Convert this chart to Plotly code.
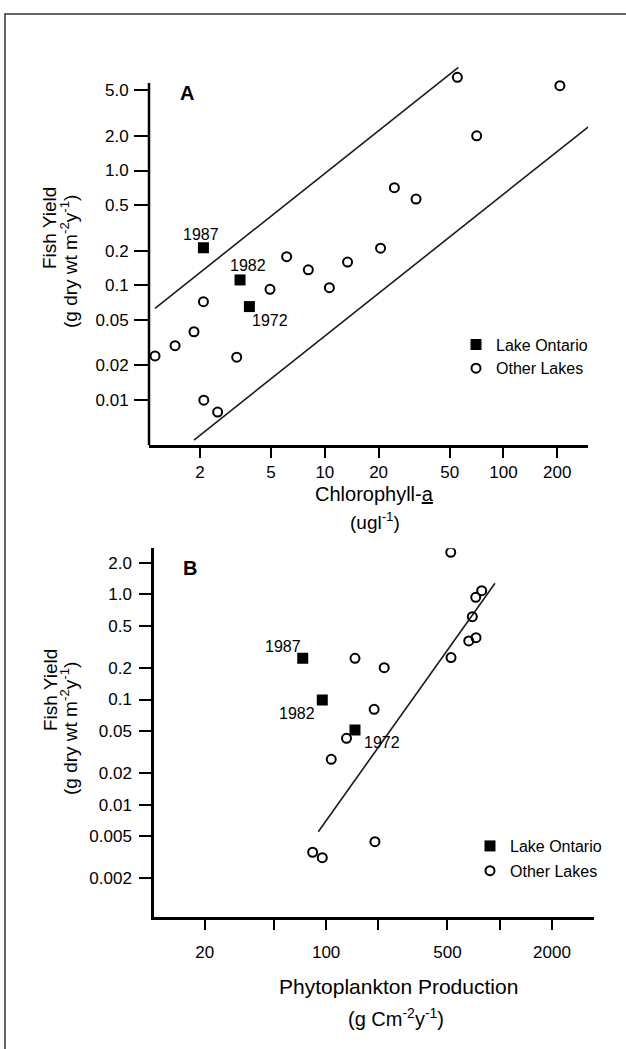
import numpy as np
import plotly.graph_objects as go

# ---------------- Data ----------------
# Panel A: Fish yield vs Chlorophyll-a
a_ontario_years = ["1987", "1982", "1972"]
a_ontario_chl = [2.09, 3.35, 3.78]
a_ontario_fy = [0.212, 0.111, 0.065]

a_other_chl = [1.12, 1.45, 1.85, 2.09, 2.10, 2.51, 3.21, 4.93, 6.11, 8.08,
               10.6, 13.4, 20.5, 24.5, 32.4, 55.2, 70.8, 207]
a_other_fy = [0.0241, 0.0296, 0.0392, 0.0717, 0.0099, 0.0078, 0.0235, 0.092,
              0.177, 0.136, 0.095, 0.159, 0.210, 0.708, 0.564, 6.51, 2.01, 5.50]

a_upper_chl = [1.12, 55.9]
a_upper_fy = [0.0628, 7.96]
a_lower_chl = [1.85, 298.7]
a_lower_fy = [0.00445, 2.41]

# Panel B: Fish yield vs Phytoplankton production
b_ontario_years = ["1987", "1982", "1972"]
b_ontario_pp = [73.3, 95.0, 146.6]
b_ontario_fy = [0.246, 0.0989, 0.0513]

b_other_pp = [522, 787, 727, 695, 663, 730, 524, 146.6, 216, 189, 131, 107, 83.6, 95.0, 191]
b_other_fy = [2.50, 1.08, 0.935, 0.612, 0.360, 0.387, 0.250, 0.246, 0.2005,
              0.0807, 0.0428, 0.0270, 0.00354, 0.00314, 0.00446]

b_line_pp = [90.1, 939]
b_line_fy = [0.00555, 1.27]

# Tick labels
a_xticks = [2, 5, 10, 20, 50, 100, 200]
a_xtext = ["2", "5", "10", "20", "50", "100", "200"]
a_yticks = [0.01, 0.02, 0.05, 0.1, 0.2, 0.5, 1, 2, 5]
a_ytext = ["0.01", "0.02", "0.05", "0.1", "0.2", "0.5", "1.0", "2.0", "5.0"]
b_xticks = [20, 50, 100, 200, 500, 1000, 2000]
b_xtext = ["20", "", "100", "", "500", "", "2000"]
b_yticks = [0.002, 0.005, 0.01, 0.02, 0.05, 0.1, 0.2, 0.5, 1, 2]
b_ytext = ["0.002", "0.005", "0.01", "0.02", "0.05", "0.1", "0.2", "0.5", "1.0", "2.0"]

# ---------------- Figure ----------------
W, H = 626, 1049
FONT = "Liberation Sans, Arial, Helvetica, sans-serif"


def px(x):
    return x / W


def py(y):
    return 1 - y / H


fig = go.Figure()

line_style = dict(color="#1a1a1a", width=1.6)

# Panel A
fig.add_trace(go.Scatter(x=a_upper_chl, y=a_upper_fy, mode="lines", line=line_style,
                         showlegend=False, xaxis="x", yaxis="y", hoverinfo="skip"))
fig.add_trace(go.Scatter(x=a_lower_chl, y=a_lower_fy, mode="lines", line=line_style,
                         showlegend=False, xaxis="x", yaxis="y", hoverinfo="skip"))
fig.add_trace(go.Scatter(x=a_ontario_chl, y=a_ontario_fy, mode="markers", name="Lake Ontario",
                         marker=dict(symbol="square", size=11, color="black"),
                         legend="legend", legendgroup="a1", xaxis="x", yaxis="y"))
fig.add_trace(go.Scatter(x=a_other_chl, y=a_other_fy, mode="markers", name="Other Lakes",
                         marker=dict(symbol="circle-open", size=9, color="black",
                                     line=dict(width=2, color="black")),
                         legend="legend", legendgroup="a2", xaxis="x", yaxis="y"))

# Panel B
fig.add_trace(go.Scatter(x=b_line_pp, y=b_line_fy, mode="lines", line=line_style,
                         showlegend=False, xaxis="x2", yaxis="y2", hoverinfo="skip"))
fig.add_trace(go.Scatter(x=b_ontario_pp, y=b_ontario_fy, mode="markers", name="Lake Ontario",
                         marker=dict(symbol="square", size=11, color="black"),
                         legend="legend2", legendgroup="b1", xaxis="x2", yaxis="y2"))
fig.add_trace(go.Scatter(x=b_other_pp, y=b_other_fy, mode="markers", name="Other Lakes",
                         marker=dict(symbol="circle-open", size=9, color="black",
                                     line=dict(width=2, color="black")),
                         legend="legend2", legendgroup="b2", xaxis="x2", yaxis="y2"))

axis_common = dict(type="log", showgrid=False, zeroline=False, ticks="outside",
                   tickwidth=2, tickcolor="black", linecolor="black", linewidth=2.5,
                   tickfont=dict(family=FONT, size=17, color="black"))

fig.update_layout(
    width=W, height=H,
    margin=dict(l=0, r=0, t=0, b=0),
    paper_bgcolor="white", plot_bgcolor="white",
    font=dict(family=FONT, size=16, color="black"),
    xaxis=dict(domain=[px(149), px(588.3)], range=[0.0154, 2.475], anchor="y",
               tickvals=a_xticks, ticktext=a_xtext, ticklen=10, showline=True,
               ticklabelstandoff=0, **axis_common),
    yaxis=dict(domain=[py(445), py(65)], range=[-2.395, 0.921], anchor="x",
               tickvals=a_yticks, ticktext=a_ytext, ticklen=14, showline=False,
               ticklabelstandoff=2, **axis_common),
    xaxis2=dict(domain=[px(154), px(594)], range=[1.0084, 3.5429], anchor="y2",
                tickvals=b_xticks, ticktext=b_xtext, ticklen=10, showline=True,
                ticklabelstandoff=8, **axis_common),
    yaxis2=dict(domain=[py(917.2), py(548.3)], range=[-3.068, 0.4365], anchor="x2",
                tickvals=b_yticks, ticktext=b_ytext, ticklen=12, showline=True,
                ticklabelstandoff=4, **axis_common),
    legend=dict(x=px(456), y=py(327.5), xanchor="left", yanchor="top",
                font=dict(family=FONT, size=16, color="black"),
                traceorder="grouped", tracegroupgap=0, bgcolor="rgba(0,0,0,0)",
                borderwidth=0),
    legend2=dict(x=px(470), y=py(829), xanchor="left", yanchor="top",
                 font=dict(family=FONT, size=16, color="black"),
                 traceorder="grouped", tracegroupgap=1, bgcolor="rgba(0,0,0,0)",
                 borderwidth=0),
    showlegend=True,
)

# Axis line for panel A y-axis (stops at the 5.0 tick)
fig.add_shape(type="line", xref="x domain", yref="y domain", x0=0, x1=0,
              y0=0, y1=(445 - 83) / 380, line=dict(color="black", width=2.5))

# Outer frame
fig.add_shape(type="rect", xref="paper", yref="paper", x0=px(5), x1=1.05,
              y0=-0.05, y1=py(14), line=dict(color="#333333", width=1.5))

ann = []


def text(x, y, s, size=16, angle=0):
    ann.append(dict(x=px(x), y=py(y), xref="paper", yref="paper", text=s,
                    showarrow=False, xanchor="center", yanchor="middle", textangle=angle,
                    font=dict(family=FONT, size=size, color="black")))


# Panel letters
text(187, 93, "<b>A</b>", size=20)
text(190, 568, "<b>B</b>", size=20)

# Year labels (attached to the Lake Ontario points)
a_offsets = [(-2, 13), (8, 14), (21, -14)]
for yr, xv, yv, (dx, dy) in zip(a_ontario_years, a_ontario_chl, a_ontario_fy, a_offsets):
    ann.append(dict(x=np.log10(xv), y=np.log10(yv), xref="x", yref="y", text=yr,
                    showarrow=False, xshift=dx, yshift=dy,
                    font=dict(family=FONT, size=16, color="black")))
b_offsets = [(-20, 12), (-25, -13), (27, -12)]
for yr, xv, yv, (dx, dy) in zip(b_ontario_years, b_ontario_pp, b_ontario_fy, b_offsets):
    ann.append(dict(x=np.log10(xv), y=np.log10(yv), xref="x2", yref="y2", text=yr,
                    showarrow=False, xshift=dx, yshift=dy,
                    font=dict(family=FONT, size=16, color="black")))

# Axis titles
text(375, 494, "Chlorophyll-<u>a</u>", size=20)
text(375, 521, "(ugl<sup>-1</sup>)", size=19)
text(398, 986, "Phytoplankton Production", size=21)
text(396, 1017, "(g Cm<sup>-2</sup>y<sup>-1</sup>)", size=20)

text(50, 228, "Fish Yield", size=19, angle=-90)
text(69, 262, "(g dry wt m<sup>-2</sup>y<sup>-1</sup>)", size=19, angle=-90)
text(50, 690, "Fish Yield", size=19, angle=-90)
text(69, 729, "(g dry wt m<sup>-2</sup>y<sup>-1</sup>)", size=19, angle=-90)

fig.update_layout(annotations=ann)

fig.write_html("out.html", config={"displayModeBar": False},
               post_script="document.body.style.margin='0px';")
